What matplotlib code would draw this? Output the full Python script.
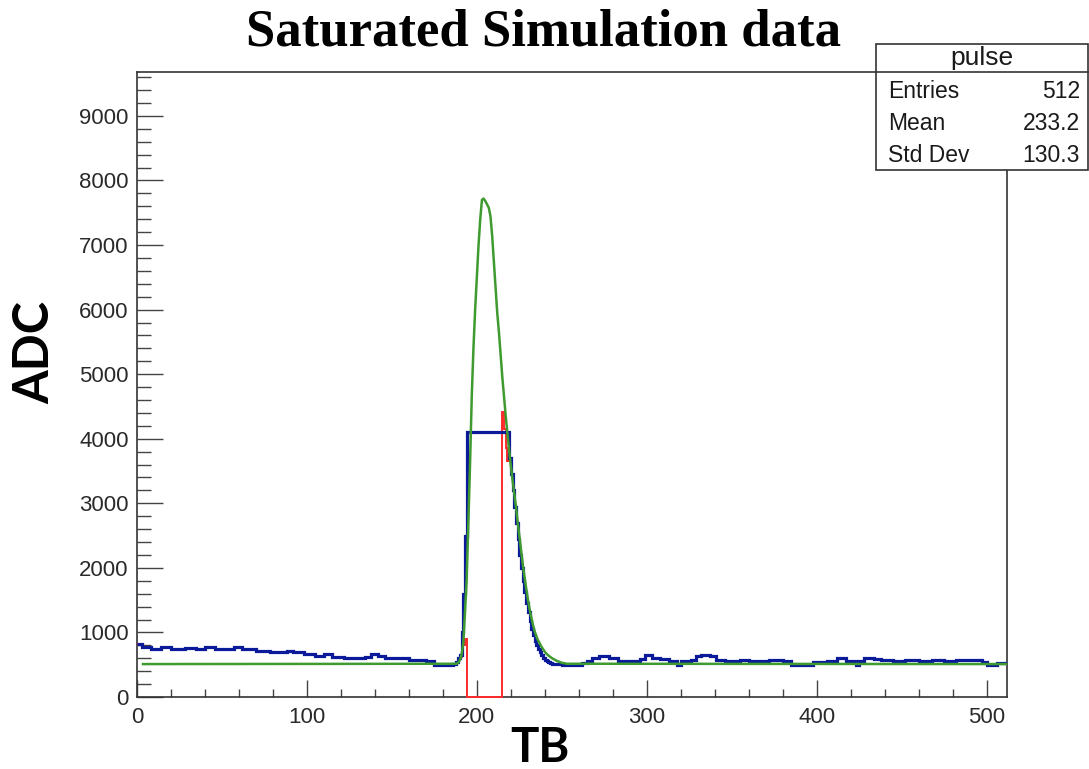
import numpy as np
import matplotlib.pyplot as plt
from matplotlib.patches import Rectangle
from matplotlib.ticker import MultipleLocator

plt.rcParams['font.family'] = ['Liberation Sans', 'DejaVu Sans']

# blue histogram: slowly varying baseline read as (bin edge, level) steps
left_edges = [0, 3, 8, 14, 20, 28, 35, 40, 46, 52, 57, 62, 70, 78, 85, 88, 92, 98,
              105, 110, 115, 122, 128, 134, 138, 142, 146, 152, 160, 170, 175, 186, 188]
left_levels = [820, 780, 750, 770, 745, 760, 740, 770, 740, 750, 770, 740, 720, 700, 690,
               720, 690, 660, 640, 660, 620, 610, 600, 620, 660, 640, 610, 600, 580, 560,
               500, 510]

# blue, per bin from TB 188 to 244 (saturated at 4100)
peak_start = 188
blue_peak = [540, 600, 650, 1000, 1600, 2500] + [4100] * 25 + \
            [3700, 3450, 3200, 2950, 2700, 2450, 2200, 2000, 1800, 1620, 1460, 1310,
             1180, 1060, 960, 870, 800, 740, 690, 650, 610, 580, 560, 545, 530, 515]

right_edges = [245, 250, 262, 265, 268, 272, 278, 283, 290, 296, 299, 303, 308, 313, 318,
               320, 326, 329, 332, 337, 341, 346, 352, 355, 360, 366, 372, 380, 385, 398,
               406, 412, 417, 423, 425, 428, 434, 438, 445, 452, 460, 468, 475, 482, 490,
               497, 500, 506, 512]
right_levels = [505, 495, 520, 560, 610, 630, 600, 560, 555, 590, 650, 610, 590, 555, 500,
                550, 580, 630, 655, 630, 580, 550, 560, 580, 565, 550, 575, 560, 500, 545,
                560, 600, 560, 495, 560, 610, 590, 570, 560, 570, 565, 575, 565, 575, 570,
                545, 500, 530]

# red histogram: saturated bins removed, per bin from TB 188 to 218
red_peak = [540, 600, 620, 700, 800, 900] + [0] * 21 + [4420, 4150, 3850, 3650]

# green fit curve
green_x = [3.5, 188, 189, 190, 191, 192, 193, 194, 195, 196, 197, 198, 199, 200, 201, 202,
           203, 204, 205, 206, 207, 208, 209, 210, 211, 212, 213, 214, 215, 216, 217, 218,
           219, 220, 221, 222, 223, 224, 225, 226, 227, 228, 229, 230, 231, 232, 233, 234,
           235, 236, 237, 238, 239, 240, 241, 242, 243, 244, 245, 246, 247, 248, 249, 250,
           251, 252, 253, 512]
green_y = [510, 515, 530, 570, 650, 830, 1300, 1810, 2690, 3620, 4650, 5400, 6000, 6500,
           7000, 7400, 7700, 7720, 7680, 7630, 7580, 7450, 7150, 6750, 6350, 5950, 5650,
           5300, 4950, 4650, 4350, 4080, 3820, 3580, 3360, 3150, 2950, 2720, 2500, 2280,
           2060, 1870, 1690, 1520, 1370, 1240, 1120, 1020, 940, 880, 830, 780, 740, 700,
           670, 645, 625, 605, 590, 575, 560, 550, 540, 530, 525, 520, 515, 510]

stats_rows = [("Entries", "512"), ("Mean", "233.2"), ("Std Dev", "130.3")]

# assemble histograms
peak_edges = list(range(peak_start, peak_start + len(blue_peak)))
blue_edges = np.array(left_edges[:-1] + peak_edges + right_edges, dtype=float)
blue_vals = np.array(left_levels + blue_peak + right_levels, dtype=float)
red_vals = blue_vals.copy()
i0 = len(left_levels)
red_vals[i0:i0 + len(red_peak)] = red_peak

fig = plt.figure(figsize=(10.89, 7.69), dpi=100)
ax = fig.add_axes([137 / 1089, 72 / 769, 870 / 1089, 625 / 769])

ax.stairs(red_vals, blue_edges, baseline=None, color='#ff2a2a', lw=1.4, zorder=2.7,
          clip_on=False)
ax.stairs(blue_vals, blue_edges, baseline=None, color='#0a1a99', lw=2.3, zorder=3)
ax.plot(green_x, green_y, color='#3f9a2f', lw=1.8, zorder=4)

ax.set_xlim(0, 512)
ax.set_ylim(0, 9680)
ax.xaxis.set_major_locator(MultipleLocator(100))
ax.xaxis.set_minor_locator(MultipleLocator(20))
ax.yaxis.set_major_locator(MultipleLocator(1000))
ax.yaxis.set_minor_locator(MultipleLocator(200))
ax.tick_params(axis='both', which='both', direction='in', color='#444444', width=1,
               labelsize=16, labelcolor='#2a2a2a', top=False, right=False)
ax.tick_params(axis='y', which='major', length=19, pad=6)
ax.tick_params(axis='y', which='minor', length=10)
ax.tick_params(axis='x', which='major', length=12, pad=7)
ax.tick_params(axis='x', which='minor', length=6)
for s in ax.spines.values():
    s.set_color('#333333')
    s.set_linewidth(1.2)

fig.text(543 / 1089, 1 - 33 / 769, "Saturated Simulation data", ha='center', va='center',
         family='Liberation Serif', fontweight='bold', fontsize=38)
fig.text(35 / 1089, 1 - 352 / 769, "ADC", rotation=90, ha='center', va='center',
         family='Lato', fontweight='bold', fontsize=35)
fig.text(540 / 1089, 1 - 748 / 769, "TB", ha='center', va='center',
         family='Lato', fontweight='bold', fontsize=34)

# stats box
bx0, bx1 = 876 / 1089, 1088 / 1089
by0, by1 = 1 - 170 / 769, 1 - 44 / 769
fig.add_artist(Rectangle((bx0, by0), bx1 - bx0, by1 - by0, transform=fig.transFigure,
                         facecolor='white', edgecolor='#333333', lw=1.2, zorder=10))
fig.add_artist(plt.Line2D([bx0, bx1], [1 - 72 / 769] * 2, transform=fig.transFigure,
                          color='#333333', lw=1.2, zorder=11))
fig.text((bx0 + bx1) / 2, 1 - 58 / 769, "pulse", ha='center', va='center',
         fontsize=19, color='#1a1a1a', zorder=12)
for k, (name, val) in enumerate(stats_rows):
    yy = 1 - (92 + 32 * k) / 769
    fig.text(888 / 1089, yy, name, ha='left', va='center', fontsize=16.5,
             color='#1a1a1a', zorder=12)
    fig.text(1080 / 1089, yy, val, ha='right', va='center', fontsize=16.5,
             color='#1a1a1a', zorder=12)

fig.savefig("out.png", dpi=100)
